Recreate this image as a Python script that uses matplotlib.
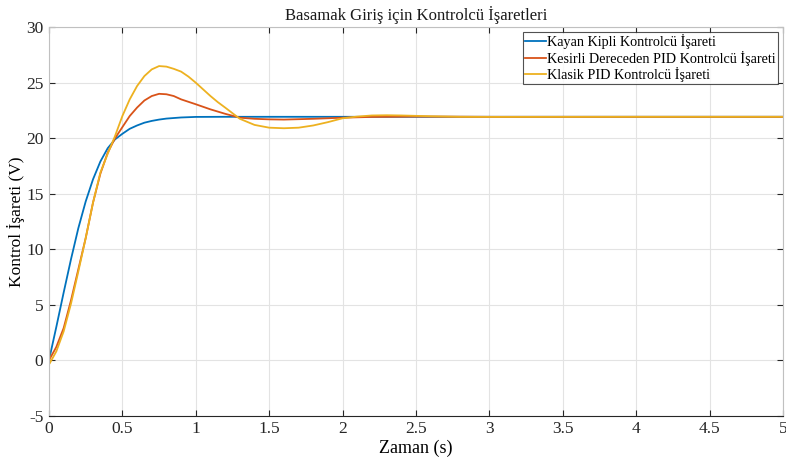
import matplotlib
matplotlib.use("Agg")
import matplotlib.pyplot as plt

plt.rcParams['font.family'] = ['Liberation Serif', 'DejaVu Serif']
plt.rcParams['axes.unicode_minus'] = False

title = "Basamak Giriş için Kontrolcü İşaretleri"
xlabel = "Zaman (s)"
ylabel = "Kontrol İşareti (V)"
labels = ["Kayan Kipli Kontrolcü İşareti",
          "Kesirli Dereceden PID Kontrolcü İşareti",
          "Klasik PID Kontrolcü İşareti"]

t_smc = [0, 0.05, 0.1, 0.15, 0.2, 0.25, 0.3, 0.35, 0.4, 0.45, 0.5, 0.55, 0.6,
         0.65, 0.7, 0.75, 0.8, 0.9, 1.0, 1.2, 1.5, 2.0, 3.0, 4.0, 5.0]
u_smc = [0, 3.0, 6.1, 9.1, 11.9, 14.3, 16.3, 17.9, 19.1, 19.9, 20.4, 20.85, 21.15,
         21.4, 21.56, 21.68, 21.77, 21.87, 21.92, 21.93, 21.93, 21.93, 21.93, 21.93, 21.93]

t_fopid = [0, 0.05, 0.1, 0.15, 0.2, 0.25, 0.3, 0.35, 0.4, 0.45, 0.5, 0.55, 0.6,
           0.65, 0.7, 0.75, 0.8, 0.85, 0.9, 1.0, 1.1, 1.2, 1.3, 1.4, 1.5, 1.6,
           1.8, 2.0, 2.2, 2.5, 3.0, 4.0, 5.0]
u_fopid = [0, 1.2, 2.9, 5.4, 8.2, 11.0, 14.2, 16.8, 18.7, 20.0, 21.0, 22.0, 22.76,
           23.4, 23.8, 24.0, 23.96, 23.8, 23.5, 23.06, 22.6, 22.2, 21.85, 21.75, 21.7, 21.68,
           21.75, 21.85, 21.92, 21.95, 21.93, 21.93, 21.93]

t_pid = [0, 0.004, 0.05, 0.1, 0.15, 0.2, 0.25, 0.3, 0.35, 0.4, 0.45, 0.5, 0.55, 0.6,
         0.65, 0.7, 0.75, 0.8, 0.85, 0.9, 0.95, 1.0, 1.05, 1.1, 1.15, 1.2, 1.3, 1.4,
         1.5, 1.6, 1.7, 1.8, 1.9, 2.0, 2.1, 2.2, 2.3, 2.4, 2.6, 2.8, 3.0, 4.0, 5.0]
u_pid = [2.0, -0.3, 0.8, 2.6, 5.1, 8.0, 11.0, 14.2, 16.9, 18.6, 20.2, 22.0, 23.5, 24.7,
         25.6, 26.2, 26.5, 26.45, 26.25, 26.0, 25.55, 25.0, 24.4, 23.8, 23.25, 22.76, 21.75, 21.2,
         20.95, 20.9, 20.95, 21.15, 21.45, 21.8, 21.95, 22.05, 22.07, 22.05, 21.98, 21.93, 21.92, 21.93, 21.93]

xticks = [0, 0.5, 1, 1.5, 2, 2.5, 3, 3.5, 4, 4.5, 5]
xticklabels = ["0", "0.5", "1", "1.5", "2", "2.5", "3", "3.5", "4", "4.5", "5"]
yticks = [-5, 0, 5, 10, 15, 20, 25, 30]
yticklabels = ["-5", "0", "5", "10", "15", "20", "25", "30"]

colors = ["#0072BD", "#D95319", "#EDB120"]

fig = plt.figure(figsize=(7.86, 4.61), dpi=100)
ax = fig.add_axes([0.0623, 0.098, 0.934, 0.843])

ax.plot(t_smc, u_smc, color=colors[0], lw=1.3, label=labels[0])
ax.plot(t_fopid, u_fopid, color=colors[1], lw=1.3, label=labels[1])
ax.plot(t_pid, u_pid, color=colors[2], lw=1.3, label=labels[2])

ax.set_xlim(0, 5)
ax.set_ylim(-5, 30)
ax.set_xticks(xticks)
ax.set_xticklabels(xticklabels)
ax.set_yticks(yticks)
ax.set_yticklabels(yticklabels)
ax.grid(True, color="#e3e3e3", lw=0.8)
ax.set_axisbelow(True)
ax.tick_params(direction="in", length=4, labelsize=12.5, colors="#262626",
               top=True, right=True, pad=4)
for s in ["left", "top", "right"]:
    ax.spines[s].set_color("#c0c0c0")
ax.spines["bottom"].set_color("#262626")
for s in ax.spines.values():
    s.set_linewidth(0.8)

ax.set_title(title, fontsize=12, pad=5, color="#1a1a1a")
ax.set_xlabel(xlabel, fontsize=13, labelpad=2)
ax.set_ylabel(ylabel, fontsize=12.5, labelpad=1)

leg = ax.legend(loc="upper right", bbox_to_anchor=(0.993, 0.987), fontsize=10.2,
                frameon=True, fancybox=False, edgecolor="#262626", handlelength=1.45,
                handletextpad=0.12, borderpad=0.15, labelspacing=0.1, borderaxespad=0)
leg.get_frame().set_linewidth(0.8)

fig.savefig("out.png", dpi=100)
